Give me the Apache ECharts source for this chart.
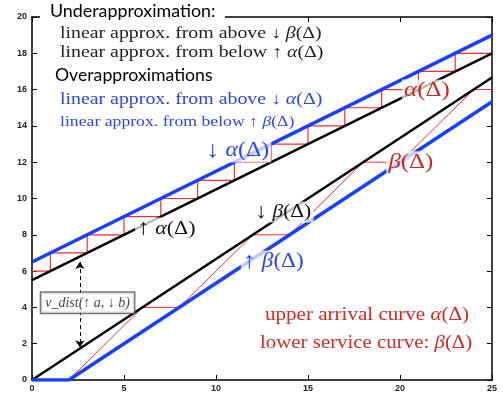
<!DOCTYPE html>
<html><head><meta charset="utf-8">
<script src="https://cdn.jsdelivr.net/npm/echarts@6/dist/echarts.min.js"></script>
<style>html,body{margin:0;padding:0;background:#fff}#c{width:503px;height:403px}</style>
</head><body><div id="c"></div>
<script>
// ---- data ----
const alphaStepX = [0,1,3,5,7,9,11,13,15,17,19,21,23,25];
const alphaStepY = [6,7,8,9,10,11,12,13,14,15,16,17,18,18];
const betaX = [0,2,6,8,12,14,18,20,24,25];
const betaY = [0,0,4,4,8,8,12,12,16,16];
const alphaUpperX = [0,25], alphaUpperY = [6.5,19];
const alphaLowerX = [0,25], alphaLowerY = [5.5,18];
const betaUpperX = [0,25],  betaUpperY = [0,16.667];
const betaLowerX = [0,2,25], betaLowerY = [0,0,15.333];
const vdistX = [2.6,2.6], vdistY = [6.5,1.8];
const labelText = ['{a|↓} {g|α}(Δ)','{a|↑} {g|α}(Δ)','{a|↓} {g|β}(Δ)','{a|↑} {g|β}(Δ)','{g|α}(Δ)','{g|β}(Δ)'];
const labelX = [9.35,5.6,12.0,11.35,20.1,19.25];
const labelY = [12.65,8.35,9.25,6.5,15.95,12.0];
const boxText = 'v_dist(↑ a, ↓ b)';
const boxX = 0.5, boxY = 4.25;
const legendLines = ['Underapproximation:','linear approx. from above ↓ {g|β}(Δ)','linear approx. from below ↑ {g|α}(Δ)','Overapproximations','linear approx. from above ↓ {g|α}(Δ)','linear approx. from below ↑ {g|β}(Δ)'];
const noteLines = ['upper arrival curve {g|α}(Δ)','lower service curve: {g|β}(Δ)'];

// ---- styles ----
const BLUE = '#1a40ff', RED = '#ff2b2b', DRED = '#c8281e', TBLUE = '#2a45e8', NRED = '#d42a22';
const SERIF = '"Liberation Serif", "DejaVu Serif", serif';
const SANS = 'Lato, "Open Sans", sans-serif';
const labelStyle = [
  {color:TBLUE, size:21},
  {color:'#111', size:19.5},
  {color:'#111', size:19},
  {color:TBLUE, size:20.5},
  {color:DRED, size:22},
  {color:DRED, size:22}
];
const zip = (xs, ys) => xs.map((x,i)=>[x, ys[i]]);

const chart = echarts.init(document.getElementById('c'), null, {renderer:'canvas'});
const axisCommon = {
  type:'value', splitLine:{show:false},
  axisLine:{show:true, onZero:false, lineStyle:{color:'#000', width:1.5}},
  axisTick:{show:true, inside:true, length:5, lineStyle:{color:'#000', width:1}},
};
const option = {
  animation:false,
  grid:{left:32, right:11, top:17, bottom:23, containLabel:false, outerBoundsMode:'none'},
  xAxis:[
    Object.assign({}, axisCommon, {position:'bottom', min:0, max:25, interval:5,
      axisLabel:{color:'#222', fontSize:9, fontFamily:'"Liberation Sans", Arial', fontWeight:'bold', margin:4}}),
    Object.assign({}, axisCommon, {position:'top', min:0, max:25, interval:5, axisLabel:{show:false}})
  ],
  yAxis:[
    Object.assign({}, axisCommon, {position:'left', min:0, max:20, interval:2,
      axisLabel:{color:'#222', fontSize:9, fontFamily:'"Liberation Sans", Arial', fontWeight:'bold', margin:5}}),
    Object.assign({}, axisCommon, {position:'right', min:0, max:20, interval:2, axisLabel:{show:false}})
  ],
  series:[
    {type:'line', step:'end', data:zip(alphaStepX, alphaStepY), symbol:'none', lineStyle:{color:RED, width:1.2}, z:2},
    {type:'line', data:zip(betaX, betaY), symbol:'none', lineStyle:{color:RED, width:1}, z:2},
    {type:'line', data:zip(alphaLowerX, alphaLowerY), symbol:'none', lineStyle:{color:'#000', width:2.5}, z:3},
    {type:'line', data:zip(betaUpperX, betaUpperY), symbol:'none', lineStyle:{color:'#000', width:2.5}, z:3},
    {type:'line', data:zip(alphaUpperX, alphaUpperY), symbol:'none', lineStyle:{color:BLUE, width:3.5}, z:4},
    {type:'line', data:zip(betaLowerX, betaLowerY), symbol:'none', lineStyle:{color:BLUE, width:3.5}, z:4},
    {type:'lines', coordinateSystem:'cartesian2d', z:5,
      symbol:['arrow','arrow'], symbolSize:7,
      lineStyle:{color:'#000', width:1, type:[4,3], opacity:1},
      data:[{coords:zip(vdistX, vdistY)}]},
    {type:'scatter', symbolSize:0, z:6,
      data:[{value:[boxX, boxY], name:boxText}],
      label:{show:true, position:'right', distance:0, formatter:p=>p.name,
        color:'#111', fontSize:14, fontStyle:'italic', fontFamily:SERIF,
        backgroundColor:'#fff', borderColor:'#555', borderWidth:1.5, padding:[3,4,3,4]}}
  ]
};
chart.setOption(option);

function txt(str, x, y, size, family, fill, sx, extra) {
  return {type:'text', x:x, y:y, scaleX:sx, z:101,
    style:Object.assign({text:str, fontSize:size, fontFamily:family, fill:fill, align:'left', verticalAlign:'middle',
      rich:{g:{fontStyle:'italic', fontSize:size, fontFamily:family, fill:fill},
            a:{fontSize:size*1.12, fontFamily:family, fill:fill}}}, extra||{})};
}
const graphics = [
  {type:'rect', shape:{x:40, y:0, width:185, height:24}, style:{fill:'#fff'}, z:100},
  txt(legendLines[0], 50, 12, 17, SANS, '#000', 1.05),
  txt(legendLines[1], 60, 34, 16, SERIF, '#222', 1.24),
  txt(legendLines[2], 60, 53, 16, SERIF, '#222', 1.24),
  txt(legendLines[3], 55, 76, 17, SANS, '#000', 1.04),
  txt(legendLines[4], 60, 100, 16, SERIF, TBLUE, 1.24),
  txt(legendLines[5], 60, 122, 14.5, SERIF, TBLUE, 1.22),
  txt(noteLines[0], 265, 315, 18, SERIF, NRED, 1.17),
  txt(noteLines[1], 260, 343, 18, SERIF, NRED, 1.16)
];
labelText.forEach((t,i)=>{
  const p = chart.convertToPixel({gridIndex:0}, [labelX[i], labelY[i]]);
  graphics.push(txt(t, p[0], p[1], labelStyle[i].size, SERIF, labelStyle[i].color, 1.13,
    {backgroundColor:'rgba(255,255,255,0.72)', padding:[0,2]}));
});
chart.setOption({graphic:graphics});
</script></body></html>
